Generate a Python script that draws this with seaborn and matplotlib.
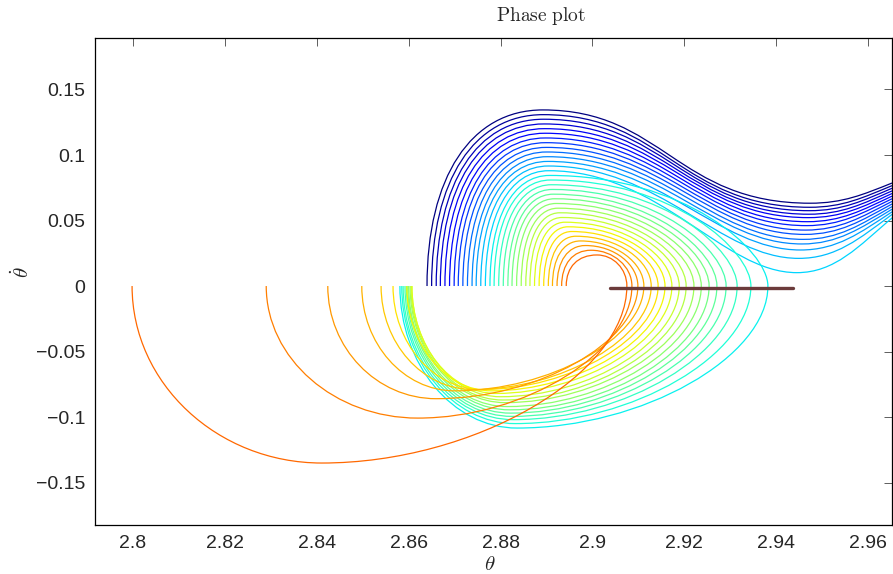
import matplotlib
matplotlib.use("Agg")
import matplotlib.pyplot as plt
from matplotlib.path import Path
from matplotlib.patches import PathPatch
import seaborn as sns
import pandas as pd

# ---- data (theta, theta_dot) ----
# every trajectory starts on theta_dot = 0 and rises to its top
start_x = [2.8640, 2.8650, 2.8660, 2.8669, 2.8679, 2.8689, 2.8699, 2.8708,
           2.8718, 2.8728, 2.8738, 2.8747, 2.8757, 2.8767, 2.8777, 2.8786,
           2.8796, 2.8806, 2.8816, 2.8825, 2.8835, 2.8845, 2.8855, 2.8864,
           2.8874, 2.8884, 2.8894, 2.8904, 2.8913, 2.8923, 2.8933, 2.8943]
top_x = [2.8892, 2.8893, 2.8894, 2.8895, 2.8896, 2.8897, 2.8898, 2.8899,
         2.8900, 2.8901, 2.8902, 2.8903, 2.8904, 2.8905, 2.8907, 2.8909,
         2.8911, 2.8913, 2.8915, 2.8918, 2.8921, 2.8925, 2.8929, 2.8934,
         2.8940, 2.8947, 2.8955, 2.8964, 2.8974, 2.8985, 2.8997, 2.9010]
top_y = [0.1344, 0.1308, 0.1273, 0.1237, 0.1201, 0.1166, 0.1130, 0.1094,
         0.1058, 0.1023, 0.0987, 0.0951, 0.0916, 0.0880, 0.0844, 0.0809,
         0.0773, 0.0737, 0.0701, 0.0666, 0.0630, 0.0594, 0.0559, 0.0523,
         0.0487, 0.0452, 0.0416, 0.0380, 0.0344, 0.0309, 0.0273, 0.0237]

# outer trajectories (first 14) dip and leave through the right edge
dip_x = [2.9474, 2.9473, 2.9472, 2.9471, 2.9470, 2.9468, 2.9466,
         2.9464, 2.9462, 2.9459, 2.9456, 2.9453, 2.9449, 2.9445]
dip_y = [0.0632, 0.0601, 0.0575, 0.0548, 0.0522, 0.0491, 0.0461,
         0.0427, 0.0394, 0.0356, 0.0321, 0.0275, 0.0211, 0.0102]
exit_y = [0.0786, 0.0766, 0.0746, 0.0726, 0.0706, 0.0686, 0.0666,
          0.0646, 0.0626, 0.0606, 0.0586, 0.0566, 0.0546, 0.0520]
exit_slope = [1.4, 1.45, 1.5, 1.55, 1.6, 1.65, 1.7,
              1.8, 1.9, 2.0, 2.1, 2.3, 2.6, 3.0]

# inner trajectories (last 18) cross zero on the right and swing below
cross_x = [2.9382, 2.9345, 2.9315, 2.9291, 2.9271, 2.9254, 2.9237, 2.9221,
           2.9204, 2.9189, 2.9173, 2.9158, 2.9143, 2.9128, 2.9112, 2.9099,
           2.9086, 2.9075]
bottom_x = [2.8836, 2.8832, 2.8828, 2.8825, 2.8822, 2.8820, 2.8815, 2.8810,
            2.8805, 2.8800, 2.8790, 2.8780, 2.8760, 2.8740, 2.8700, 2.8660,
            2.8620, 2.8411]
bottom_y = [-0.1084, -0.1050, -0.1020, -0.0995, -0.0970, -0.0945, -0.0920,
            -0.0890, -0.0870, -0.0845, -0.0820, -0.0800, -0.0790, -0.0790,
            -0.0800, -0.0860, -0.1008, -0.1351]
end_x = [2.8581, 2.8585, 2.8588, 2.8592, 2.8595, 2.8598, 2.8600, 2.8603,
         2.8605, 2.8607, 2.8607, 2.8596, 2.8566, 2.8540, 2.8498, 2.8424,
         2.8290, 2.7998]

bar_x = [2.9038, 2.9437]
bar_y = [-0.0015, -0.0015]

x_ticks = [2.8, 2.82, 2.84, 2.86, 2.88, 2.9, 2.92, 2.94, 2.96]
x_labels = ["2.8", "2.82", "2.84", "2.86", "2.88", "2.9", "2.92", "2.94", "2.96"]
y_ticks = [-0.15, -0.1, -0.05, 0, 0.05, 0.1, 0.15]
y_labels = ["\u22120.15", "\u22120.1", "\u22120.05", "0", "0.05", "0.1", "0.15"]

XMIN, XMAX = 2.79173, 2.96521
YMIN, YMAX = -0.1824, 0.1893

# ---- style ----
sns.set_style("white")
plt.rcParams["font.family"] = ["Liberation Sans", "DejaVu Sans"]
plt.rcParams["mathtext.fontset"] = "cm"

fig = plt.figure(figsize=(8.93, 5.74), dpi=100)
ax = fig.add_axes([95 / 893, 1 - 525 / 574, 797 / 893, 487 / 574])
cmap = matplotlib.colormaps["jet"]
N = len(start_x)
n_exit = len(dip_x)


def v2h(A, B, k):
    return [(A[0], A[1] + k * (B[1] - A[1])), (B[0] - k * (B[0] - A[0]), B[1]), B]


def h2v(A, B, k1, k2):
    return [(A[0] + k1 * (B[0] - A[0]), A[1]), (B[0], B[1] - k2 * (B[1] - A[1])), B]


def h2h(A, B, k1, k2):
    return [(A[0] + k1 * (B[0] - A[0]), A[1]), (B[0] - k2 * (B[0] - A[0]), B[1]), B]


for i in range(N):
    A = (start_x[i], 0.0)
    B = (top_x[i], top_y[i])
    pts = [A] + v2h(A, B, 0.62)
    if i < n_exit:
        M = (dip_x[i], dip_y[i])
        km = 0.5 - 0.2 * i / (n_exit - 1)
        pts += h2h(B, M, 0.45, km)
        R = (XMAX, exit_y[i])
        dx = R[0] - M[0]
        pts += [(M[0] + 0.4 * dx, M[1]),
                (R[0] - 0.35 * dx, R[1] - 0.35 * dx * exit_slope[i]), R]
    else:
        j = i - n_exit
        f = j / (N - n_exit - 1)
        C = (cross_x[j], 0.0)
        D = (bottom_x[j], bottom_y[j])
        E = (end_x[j], 0.0)
        pts += h2v(B, C, 0.62 - 0.07 * f, 0.32 + 0.23 * f)
        pts += v2h(C, D, 0.5)
        pts += h2v(D, E, 0.55, 0.55)
    codes = [Path.MOVETO] + [Path.CURVE4] * (len(pts) - 1)
    color = cmap(0.8 * i / (N - 1))
    ax.add_patch(PathPatch(Path(pts, codes), fill=False, edgecolor=color,
                           lw=0.9, capstyle="butt"))

bar = pd.DataFrame({"theta": bar_x, "theta_dot": bar_y})
sns.lineplot(data=bar, x="theta", y="theta_dot", ax=ax, color="#6b3b3b",
             lw=2.4, sort=False)

ax.set_xlim(XMIN, XMAX)
ax.set_ylim(YMIN, YMAX)
ax.set_xticks(x_ticks)
ax.set_xticklabels(x_labels)
ax.set_yticks(y_ticks)
ax.set_yticklabels(y_labels)
ax.set_xlabel("")
ax.set_ylabel("")
ax.tick_params(direction="in", length=6, width=0.6, labelsize=14,
               top=True, right=True, color="#444444", pad=7)
for s in ax.spines.values():
    s.set_visible(True)
    s.set_color("black")
    s.set_linewidth(0.9)

fig.text(541 / 893, 1 - 16 / 574, r"$\mathrm{Phase\ plot}$", ha="center",
         va="center", fontsize=14)
fig.text(490 / 893, 1 - 565 / 574, r"$\theta$", ha="center", va="center",
         fontsize=15)
fig.text(22 / 893, 1 - 272 / 574, r"$\dot{\theta}$", ha="center",
         va="center", fontsize=15, rotation=90)

fig.savefig("out.png", dpi=100)
